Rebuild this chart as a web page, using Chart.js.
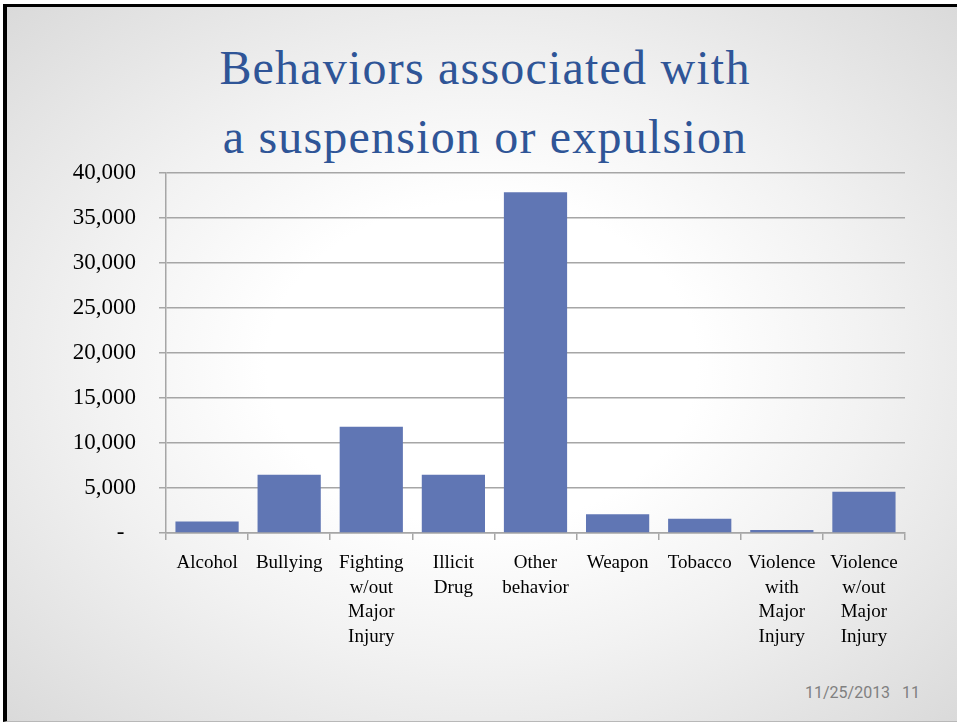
<!DOCTYPE html>
<html>
<head>
<meta charset="utf-8">
<script src="https://cdn.jsdelivr.net/npm/chart.js@4/dist/chart.umd.min.js"></script>
<style>
  html, body { margin: 0; padding: 0; }
  body { width: 957px; height: 723px; overflow: hidden; position: relative; background: #ffffff; }
  #slide {
    position: absolute; left: 3px; top: 4px; width: 954px; height: 718px; box-sizing: border-box;
    border-left: 4px solid #000; border-top: 3px solid #000; border-bottom: 1px solid #b8b8b8;
    background: radial-gradient(ellipse at 50% 50%, #ffffff 32%, #f2f2f2 58%, #dadada 100%);
  }
  .title {
    position: absolute; left: 0; width: 970px; text-align: center;
    font-family: "Liberation Serif", serif; font-size: 48px; color: #2F5597;
    letter-spacing: 1.2px; white-space: nowrap; line-height: 1;
  }
  #footer {
    position: absolute; right: 37px; top: 683px;
    font-family: Roboto, "Open Sans", sans-serif; font-size: 16px; color: #808080; white-space: pre;
  }
  #chart { position: absolute; left: 0; top: 0; }
</style>
</head>
<body>
<div id="slide"></div>
<div class="title" style="top:44px;">Behaviors associated with</div>
<div class="title" style="top:113px;">a suspension or expulsion</div>
<div id="footer">11/25/2013   11</div>
<canvas id="chart" width="957" height="723"></canvas>
<script>
const categories = [
  ["Alcohol"],
  ["Bullying"],
  ["Fighting", "w/out", "Major", "Injury"],
  ["Illicit", "Drug"],
  ["Other", "behavior"],
  ["Weapon"],
  ["Tobacco"],
  ["Violence", "with", "Major", "Injury"],
  ["Violence", "w/out", "Major", "Injury"]
];
const counts = [1290, 6480, 11800, 6480, 37850, 2070, 1590, 330, 4590];
const yTickValues = [0, 5000, 10000, 15000, 20000, 25000, 30000, 35000, 40000];
const yTickLabels = ["-  ", "5,000", "10,000", "15,000", "20,000", "25,000", "30,000", "35,000", "40,000"];

const gridGray = '#a6a6a6';

new Chart(document.getElementById('chart'), {
  type: 'bar',
  data: {
    labels: categories,
    datasets: [{
      data: counts,
      backgroundColor: '#6076B4',
      borderWidth: 0,
      categoryPercentage: 1.0,
      barPercentage: 0.77
    }]
  },
  options: {
    responsive: false,
    animation: false,
    layout: { padding: { left: 0, top: 173, right: 52, bottom: 40 } },
    plugins: { legend: { display: false }, tooltip: { enabled: false }, title: { display: false } },
    scales: {
      x: {
        offset: true,
        grid: { display: true, drawOnChartArea: false, drawTicks: true, tickLength: 7, color: gridGray, lineWidth: 1.5, offset: true },
        border: { display: true, color: gridGray, width: 1.5 },
        ticks: {
          color: '#000', maxRotation: 0, minRotation: 0, autoSkip: false, padding: 11,
          font: { family: '"Liberation Serif", serif', size: 19, lineHeight: 1.29 }
        },
        afterFit: (s) => { s.height = 150; }
      },
      y: {
        min: 0, max: 40000,
        afterBuildTicks: (s) => { s.ticks = yTickValues.map(v => ({ value: v })); },
        grid: { color: gridGray, lineWidth: 1.5, tickLength: 7, drawTicks: true },
        border: { display: true, color: gridGray, width: 1.5 },
        ticks: {
          color: '#000', padding: 23,
          font: { family: '"Liberation Serif", serif', size: 23 },
          callback: (v) => { const i = yTickValues.indexOf(v); return i >= 0 ? yTickLabels[i] : ''; }
        },
        afterFit: (s) => { s.width = 166; }
      }
    }
  }
});
</script>
</body>
</html>
